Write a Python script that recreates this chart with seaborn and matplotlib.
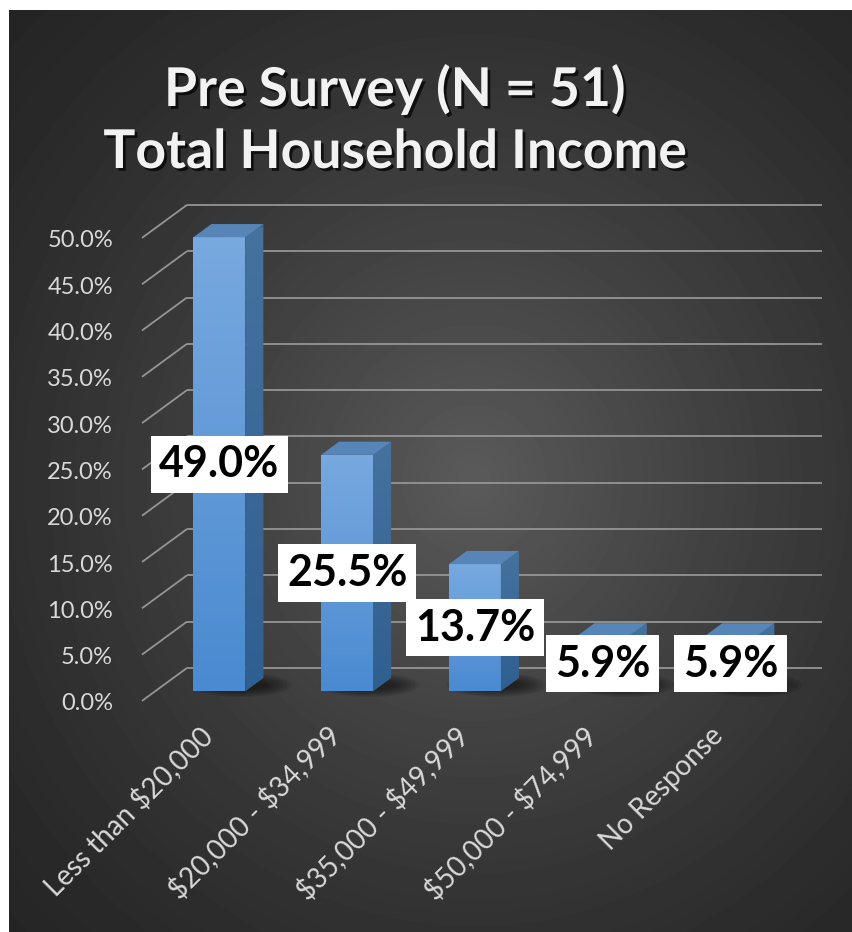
import numpy as np
import pandas as pd
import matplotlib
matplotlib.use("Agg")
import matplotlib.pyplot as plt
import matplotlib.patheffects as pe
from matplotlib.colors import LinearSegmentedColormap
from matplotlib.patches import Polygon, Ellipse
from matplotlib.transforms import ScaledTranslation
import seaborn as sns

# ---- data ----
categories = ["Less than $20,000", "$20,000 - $34,999", "$35,000 - $49,999",
              "$50,000 - $74,999", "No Response"]
shares = [0.490, 0.255, 0.137, 0.059, 0.059]
value_labels = ["49.0%", "25.5%", "13.7%", "5.9%", "5.9%"]
y_ticks = [0.00, 0.05, 0.10, 0.15, 0.20, 0.25, 0.30, 0.35, 0.40, 0.45, 0.50]
y_tick_labels = ["0.0%", "5.0%", "10.0%", "15.0%", "20.0%", "25.0%",
                 "30.0%", "35.0%", "40.0%", "45.0%", "50.0%"]
title_lines = ["Pre Survey (N = 51)", "Total Household Income"]

df = pd.DataFrame({"category": categories, "share": shares})

W, H, DPI = 853, 932, 100
sns.set_theme(style="white")
plt.rcParams["font.family"] = ["Lato", "DejaVu Sans"]
plt.rcParams["text.parse_math"] = False   # dollar signs are literal

fig = plt.figure(figsize=(W / DPI, H / DPI), dpi=DPI)
fig.patch.set_facecolor("white")

# ---- dark radial-gradient panel ----
bg = fig.add_axes([9 / W, 0, 1 - 9 / W, (H - 10) / H])
bg.axis("off")
pw, ph = W - 9, H - 10
gy, gx = np.mgrid[0:ph, 0:pw]
r = np.sqrt(((gx - 465) / 1.0) ** 2 + ((gy - 470) / 1.05) ** 2)
shade = 0.145 + 0.21 * np.clip(1 - r / 650, 0, 1) ** 1.35
bg.imshow(shade, cmap="gray", vmin=0, vmax=1, aspect="auto",
          extent=[0, pw, ph, 0], interpolation="bilinear")
bg.set_xlim(0, pw)
bg.set_ylim(ph, 0)

# ---- main plot area (bar front plane) ----
ax_left, ax_bottom, ax_w, ax_h = 155.5, 241, 638.75, 463
ax = fig.add_axes([ax_left / W, ax_bottom / H, ax_w / W, ax_h / H])
ax.set_facecolor("none")
for s in ax.spines.values():
    s.set_visible(False)

bar_w = 52 / 127.75
sns.barplot(data=df, x="category", y="share", ax=ax, width=bar_w,
            color="#5b97d8", saturation=1, zorder=3, linewidth=0)
bars = list(ax.patches)

ax.set_xlim(-0.5, 4.5)
ax.set_ylim(0, 0.5)
sx = 5.0 / ax_w      # data units per pixel, x
sy = 0.5 / ax_h      # data units per pixel, y

depth_x, depth_y = 45, 33           # full floor depth in pixels
front_k, back_k = -0.3, 0.7         # plane positions relative to the bars
bar_dx, bar_dy = 0.4 * depth_x * sx, 0.4 * depth_y * sy

grid_col = "#959595"
for v in y_ticks:
    bx0 = -0.5 + back_k * depth_x * sx
    by = v + back_k * depth_y * sy
    fx0 = -0.5 + front_k * depth_x * sx
    fy = v + front_k * depth_y * sy
    ax.plot([bx0, bx0 + 5.0 - 4 * sx], [by, by], color=grid_col, lw=1.3,
            clip_on=False, zorder=1, solid_capstyle="butt")
    ax.plot([fx0, bx0], [fy, by], color=grid_col, lw=1.3,
            clip_on=False, zorder=1, solid_capstyle="butt")

# soft floor shadows behind and right of the bars
for i in range(len(categories)):
    for k in range(7):
        ax.add_patch(Ellipse((i + 22 * sx, 6 * sy), (100 - 8 * k) * sx,
                             (24 - 2.4 * k) * sy, facecolor="black",
                             edgecolor="none", alpha=0.085, zorder=2,
                             clip_on=False))

front_cmap = LinearSegmentedColormap.from_list("front", ["#4a8ad1", "#78a9df"])
side_cmap = LinearSegmentedColormap.from_list("side", ["#2f5f90", "#46729f"])
grad = np.linspace(0, 1, 256).reshape(-1, 1)

for patch in bars:
    x0, w, h = patch.get_x(), patch.get_width(), patch.get_height()
    if h <= 0 or w <= 0:
        continue
    x1 = x0 + w
    im = ax.imshow(grad, cmap=front_cmap, origin="lower", aspect="auto",
                   extent=[x0, x1, 0, h], zorder=3.2, interpolation="bilinear")
    im.set_clip_path(patch)
    side = Polygon([(x1, 0), (x1, h), (x1 + bar_dx, h + bar_dy),
                    (x1 + bar_dx, bar_dy)], closed=True,
                   facecolor="#3d6a99", edgecolor="none", zorder=3.3,
                   clip_on=False)
    ax.add_patch(side)
    ims = ax.imshow(grad, cmap=side_cmap, origin="lower", aspect="auto",
                    extent=[x1, x1 + bar_dx, 0, h + bar_dy], zorder=3.3,
                    interpolation="bilinear")
    ims.set_clip_path(side)
    top = Polygon([(x0, h), (x1, h), (x1 + bar_dx, h + bar_dy),
                   (x0 + bar_dx, h + bar_dy)], closed=True,
                  facecolor="#5885b8", edgecolor="none", zorder=3.4,
                  clip_on=False)
    ax.add_patch(top)

ax.set_xlim(-0.5, 4.5)
ax.set_ylim(0, 0.5)

# value labels in white boxes
for i, (v, lbl) in enumerate(zip(shares, value_labels)):
    ax.text(i, v / 2, lbl, ha="center", va="center", fontsize=31,
            fontweight="bold", color="black", zorder=6,
            bbox=dict(boxstyle="square,pad=0.2", facecolor="white",
                      edgecolor="none"))

# y-axis labels on the front plane
ax.set_yticks([])
for v, lbl in zip(y_ticks, y_tick_labels):
    ax.text(-0.5 + front_k * depth_x * sx - 29 * sx,
            v + front_k * depth_y * sy - 3 * sy, lbl,
            ha="right", va="center", fontsize=17, color="#d9d9d9",
            clip_on=False)

# category labels
ax.set_xlabel("")
ax.set_ylabel("")
ax.set_xticks(range(len(categories)))
ax.set_xticklabels(categories, rotation=45, ha="right", va="center",
                   rotation_mode="anchor", fontsize=20, color="#d9d9d9")
ax.tick_params(axis="x", length=0, pad=29)
shift = ScaledTranslation(-11 / DPI, 0, fig.dpi_scale_trans)
for t in ax.get_xticklabels():
    t.set_transform(t.get_transform() + shift)

# title
shadow = [pe.withSimplePatchShadow(offset=(2, -2), shadow_rgbFace="black",
                                   alpha=0.7)]
fig.text(395 / W, 1 - 106 / H, title_lines[0], ha="center", va="baseline",
         fontsize=38.5, fontweight="bold", color="#f2f2f2", path_effects=shadow)
fig.text(395 / W, 1 - 168 / H, title_lines[1], ha="center", va="baseline",
         fontsize=38.5, fontweight="bold", color="#f2f2f2", path_effects=shadow)

fig.savefig("out.png", dpi=DPI, facecolor="white")
